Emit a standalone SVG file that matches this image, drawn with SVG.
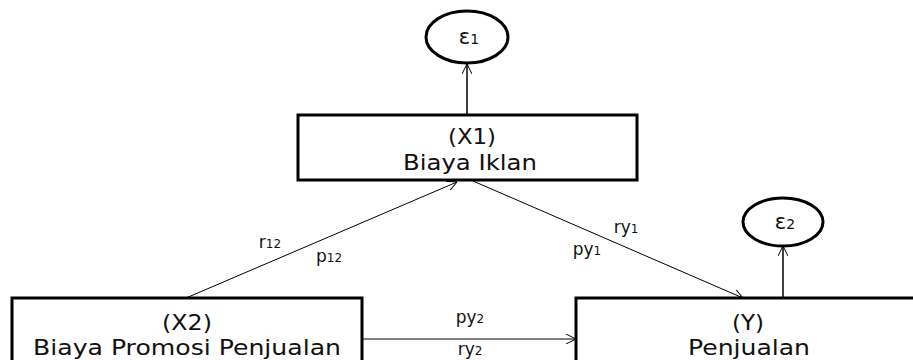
<svg xmlns="http://www.w3.org/2000/svg" width="913" height="360" viewBox="0 0 913 360">
<defs>
<marker id="arr" viewBox="0 0 10 10" refX="10" refY="5" markerWidth="10" markerHeight="10" markerUnits="userSpaceOnUse" orient="auto">
<path d="M0,0 L10,5 L0,10" fill="none" stroke="#000" stroke-width="1"/>
</marker>
<style>
.box{fill:#fff;stroke:#000;stroke-width:3}
.circ{fill:#fff;stroke:#000;stroke-width:3}
.t{font-family:"DejaVu Sans",sans-serif;font-size:21px;fill:#111;text-anchor:middle}
.lab{font-family:"DejaVu Sans",sans-serif;font-size:17px;fill:#111;text-anchor:middle}
.c{stroke:#000;stroke-width:1;fill:none;marker-end:url(#arr)}
.c2{stroke:#000;stroke-width:1.5;fill:none;marker-end:url(#arr)}
</style>
</defs>
<rect width="913" height="360" fill="#fff"/>
<g id="connectors">
<line class="c2" x1="467" y1="115" x2="467" y2="64"/>
<line class="c2" x1="783" y1="298" x2="783" y2="246"/>
<line class="c" x1="186" y1="298" x2="457" y2="182"/>
<line class="c" x1="473" y1="181" x2="743" y2="298"/>
<line class="c" x1="362" y1="339" x2="576" y2="339"/>
</g>
<g id="e1"><ellipse class="circ" cx="467" cy="37" rx="41" ry="26"/><text class="t" x="469" y="44" font-size="22">ε<tspan font-size="14">1</tspan></text></g>
<g id="e2"><ellipse class="circ" cx="783" cy="222" rx="40" ry="24"/><text class="t" x="785" y="229" font-size="22">ε<tspan font-size="14">2</tspan></text></g>
<g id="x1"><rect class="box" x="298" y="115" width="339" height="65"/><text class="t" x="472" y="144" textLength="48" lengthAdjust="spacingAndGlyphs">(X1)</text><text class="t" x="470" y="170" textLength="134" lengthAdjust="spacingAndGlyphs">Biaya Iklan</text></g>
<g id="x2"><rect class="box" x="12" y="298" width="350" height="70"/><text class="t" x="187" y="330" textLength="50" lengthAdjust="spacingAndGlyphs">(X2)</text><text class="t" x="187" y="355" textLength="308" lengthAdjust="spacingAndGlyphs">Biaya Promosi Penjualan</text></g>
<g id="y"><rect class="box" x="576" y="298" width="350" height="70"/><text class="t" x="748" y="330" textLength="32" lengthAdjust="spacingAndGlyphs">(Y)</text><text class="t" x="749" y="355" textLength="122" lengthAdjust="spacingAndGlyphs">Penjualan</text></g>
<g id="labels">
<text class="lab" x="270" y="248">r<tspan font-size="12">12</tspan></text>
<text class="lab" x="329" y="262">p<tspan font-size="12">12</tspan></text>
<text class="lab" x="626" y="233">ry<tspan font-size="12">1</tspan></text>
<text class="lab" x="587" y="255">py<tspan font-size="12">1</tspan></text>
<text class="lab" x="470" y="323">py<tspan font-size="12">2</tspan></text>
<text class="lab" x="470" y="355">ry<tspan font-size="12">2</tspan></text>
</g>
</svg>
